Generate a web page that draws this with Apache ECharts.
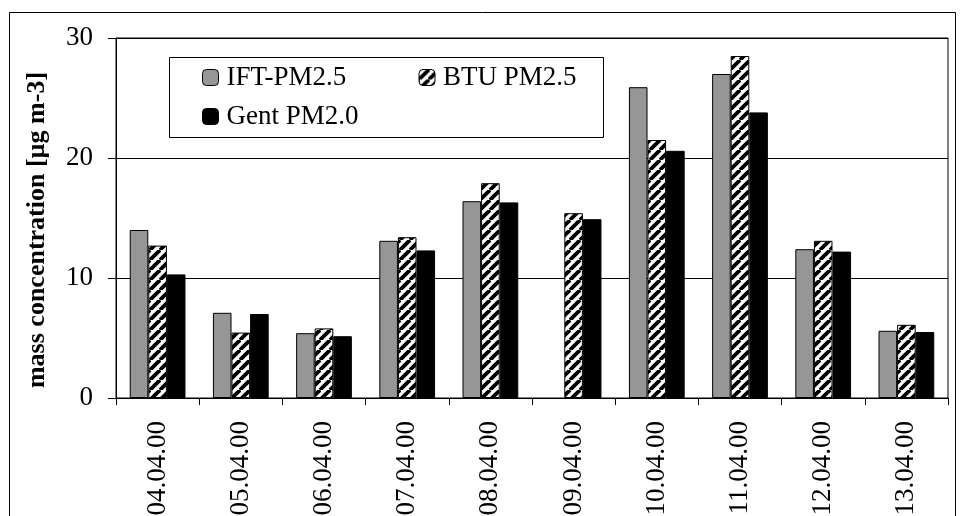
<!DOCTYPE html>
<html>
<head>
<meta charset="utf-8">
<script src="https://cdn.jsdelivr.net/npm/echarts@6/dist/echarts.min.js"></script>
<style>html,body{margin:0;padding:0;background:#fff}#c{width:961px;height:516px}</style>
</head>
<body>
<div id="c"></div>
<script>
const categories = ['04.04.00','05.04.00','06.04.00','07.04.00','08.04.00','09.04.00','10.04.00','11.04.00','12.04.00','13.04.00'];
const iftPM25 = [14.0, 7.1, 5.4, 13.1, 16.4, null, 25.9, 27.0, 12.4, 5.6];
const btuPM25 = [12.7, 5.45, 5.8, 13.4, 17.9, 15.4, 21.5, 28.5, 13.1, 6.1];
const gentPM20 = [10.3, 7.0, 5.15, 12.3, 16.3, 14.9, 20.6, 23.8, 12.2, 5.5];
const seriesNames = ['IFT-PM2.5', 'BTU PM2.5', 'Gent PM2.0'];
const yTicks = [0, 10, 20, 30];

function hatch() {
  const s = 10;
  const c = document.createElement('canvas');
  c.width = s; c.height = s;
  const g = c.getContext('2d');
  g.fillStyle = '#fff'; g.fillRect(0, 0, s, s);
  g.strokeStyle = '#000'; g.lineWidth = 3.8;
  for (const o of [-s, 0, s]) {
    g.beginPath(); g.moveTo(o, s); g.lineTo(o + s, 0); g.stroke();
  }
  return c;
}
const pattern = { image: hatch(), repeat: 'repeat' };
const FONT = 'Liberation Serif';

const chart = echarts.init(document.getElementById('c'), null, { renderer: 'canvas' });
const bar = (name, data, color) => ({
  name, type: 'bar', data,
  barGap: '0%', barCategoryGap: '33%',
  itemStyle: { color, borderColor: '#000', borderWidth: 1 },
  emphasis: { disabled: true },
  animation: false
});
chart.setOption({
  animation: false,
  graphic: [
    { type: 'rect', shape: { x: 9.5, y: 12.5, width: 946, height: 520 }, style: { fill: 'none', stroke: '#000', lineWidth: 1 }, z: 0 },
    { type: 'rect', shape: { x: 169.5, y: 57.5, width: 434, height: 80 }, style: { fill: '#fff', stroke: '#000', lineWidth: 1 }, z: 5 }
  ],
  legend: {
    left: 202, top: 63, width: 390, padding: 0,
    itemWidth: 16, itemHeight: 16, itemGap: 10,
    selectedMode: false,
    itemStyle: { borderColor: '#000', borderWidth: 1 },
    textStyle: { fontFamily: FONT, fontSize: 27, color: '#000', lineHeight: 29, padding: [0, 0, 0, 3] },
    data: [
      { name: seriesNames[0], textStyle: { width: 182 } },
      { name: seriesNames[1] },
      { name: seriesNames[2] }
    ],
    z: 10
  },
  grid: { left: 116, right: 13, top: 38, bottom: 118, show: true, borderColor: '#000', borderWidth: 1, backgroundColor: 'transparent', outerBoundsMode: 'none', containLabel: false },
  xAxis: {
    type: 'category', data: categories,
    axisLine: { lineStyle: { color: '#000', width: 1 } },
    axisTick: { show: true, length: 7, lineStyle: { color: '#000' } },
    axisLabel: { rotate: 90, margin: 23, fontFamily: FONT, fontSize: 27, color: '#000' }
  },
  yAxis: {
    type: 'value', min: yTicks[0], max: yTicks[yTicks.length - 1], interval: 10,
    name: 'mass concentration [µg m-3]', nameLocation: 'middle', nameGap: 66,
    nameTextStyle: { fontFamily: FONT, fontSize: 26, fontWeight: 'bold', color: '#000', padding: [0, 24, 0, 0] },
    axisLine: { show: true, lineStyle: { color: '#000', width: 1 } },
    axisTick: { show: true, length: 8, lineStyle: { color: '#000' } },
    axisLabel: { margin: 23, fontFamily: FONT, fontSize: 27, color: '#000' },
    splitLine: { show: true, lineStyle: { color: '#000', width: 1 } }
  },
  series: [
    bar(seriesNames[0], iftPM25, '#969696'),
    bar(seriesNames[1], btuPM25, pattern),
    bar(seriesNames[2], gentPM20, '#000')
  ]
});
</script>
</body>
</html>
